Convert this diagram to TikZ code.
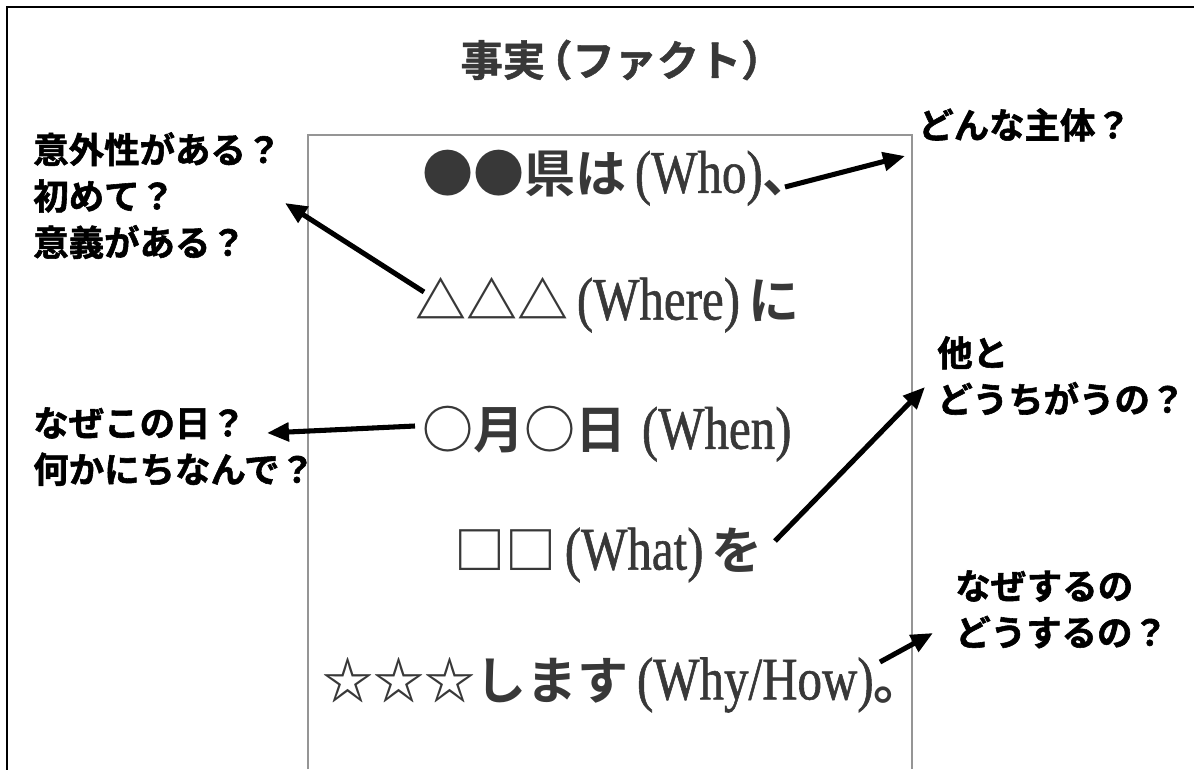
\documentclass[tikz,border=0pt]{standalone}
\usepackage{fontspec}
\usetikzlibrary{arrows.meta}
\newfontfamily\jp{Noto Sans CJK JP}[BoldFont={* Bold}]
\newfontfamily\jph{Noto Sans CJK JP}[UprightFont={* Bold}, FakeBold=1.6]
\newfontfamily\jpt{Noto Sans CJK JP}[UprightFont={* Bold}, FakeBold=1.2]
\newfontfamily\latn{Liberation Serif}[FakeStretch=0.81, FakeBold=0.9]
\definecolor{maingray}{HTML}{383838}
\definecolor{boxgray}{HTML}{959595}
\newcommand\lt[1]{\hspace{6pt}{\latn\mdseries\fontsize{43pt}{48pt}\selectfont #1}}
\newcommand\gap{\hspace{6pt}}
\tikzset{
  framel/.style={line width=1.8pt, line cap=rect},
  innerbox/.style={draw=boxgray, line width=1pt},
  mline/.style={anchor=west, inner sep=0pt, text=maingray, font=\jp\bfseries\fontsize{36.3pt}{40pt}\selectfont},
  lbl/.style={anchor=north west, inner sep=0pt, align=left, font=\jph\fontsize{25.2pt}{33pt}\selectfont},
  ttl/.style={inner sep=0pt, text=maingray, font=\jpt\fontsize{30pt}{36pt}\selectfont},
  arr/.style={line width=3.6pt, -{Triangle[length=15.6pt,width=13pt]}},
}
\begin{document}
\begin{tikzpicture}[x=0.025cm,y=-0.025cm]
\useasboundingbox (0,0) rectangle (1194,769);
% outer frame (left and top only)
\draw[framel] (7,769) -- (7,7) -- (1194,7);
% inner box
\draw[innerbox] (308,769) -- (308,135) -- (912,135) -- (912,769);
% title
\node[ttl] (title) at (622,60) {事実\kern-0.35em（ファクト）};
% main lines
\node[mline] (who)   at (422,178) {●●県は\lt{(Who)}、};
\node[mline] (where) at (415,305) {△△△\lt{(Where)}\gap に};
\node[mline] (when)  at (422,434) {○月○日\hspace{5pt}\lt{(When)}};
\node[mline] (what)  at (454,555) {□□\lt{(What)}\gap を};
\node[mline] (why)   at (322,685) {☆☆☆します\lt{(Why/How)}。};
% labels
\node[lbl] (l1) at (33,132) {意外性がある？\\初めて？\\意義がある？};
\node[lbl] (l2) at (33,407) {なぜこの日？\\何かにちなんで？};
\node[lbl] (r1) at (918,108) {どんな主体？};
\node[lbl] (r2) at (937,336) {他と\\どうちがうの？};
\node[lbl] (r3) at (955,570) {なぜするの\\どうするの？};
% connector end points
\coordinate (whoS) at (785,187);   \coordinate (whoT) at (905,156);
\coordinate (whereS) at (424,292); \coordinate (whereT) at (285,203);
\coordinate (whenS) at (415,426);  \coordinate (whenT) at (267,433);
\coordinate (whatS) at (775,541);  \coordinate (whatT) at (925,387);
\coordinate (whyS) at (880,662);   \coordinate (whyT) at (933,633);
\draw[arr] (whoS) -- (whoT);
\draw[arr] (whereS) -- (whereT);
\draw[arr] (whenS) -- (whenT);
\draw[arr] (whatS) -- (whatT);
\draw[arr] (whyS) -- (whyT);
\end{tikzpicture}
\end{document}
